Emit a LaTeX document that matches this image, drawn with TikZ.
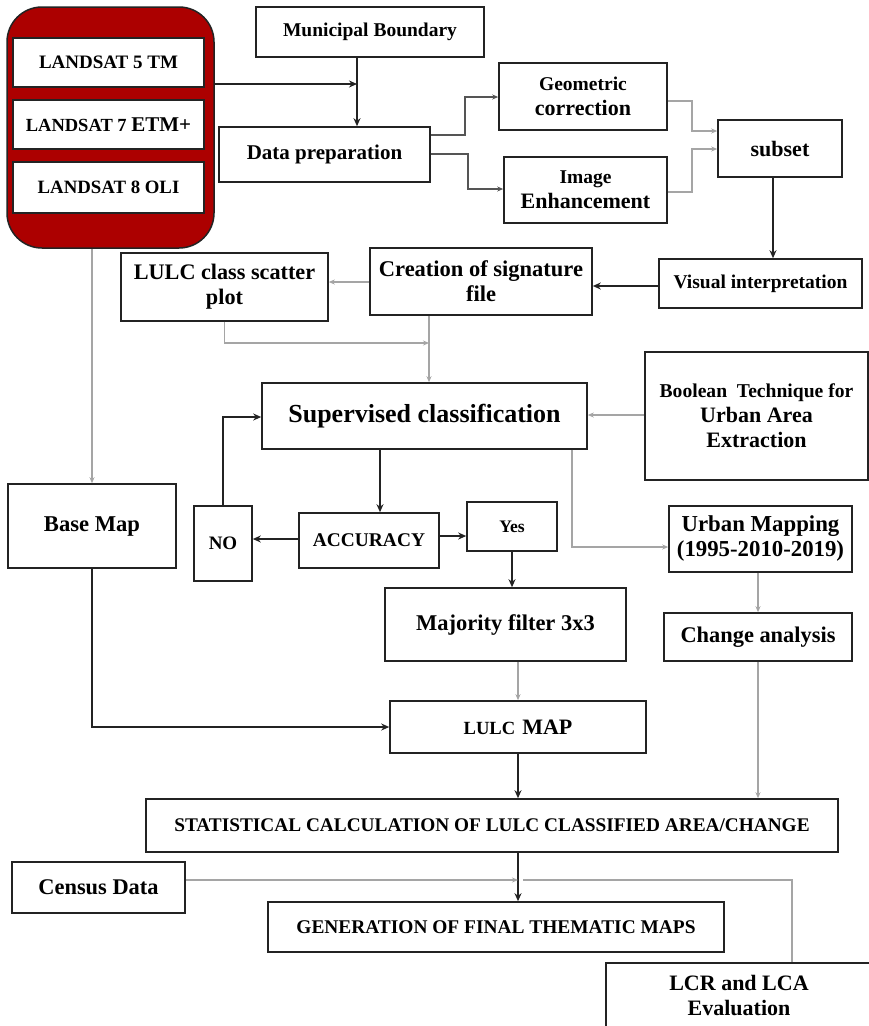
\documentclass[tikz,border=0pt]{standalone}
\usepackage{fontspec}
\setmainfont{Liberation Serif}
\usetikzlibrary{arrows.meta}
\definecolor{redfill}{RGB}{172,0,0}
\definecolor{linec}{RGB}{35,35,35}
\definecolor{grayc}{RGB}{165,165,165}
\definecolor{midc}{RGB}{85,85,85}
\newcommand\fsz[2]{\fontsize{#1}{#2}\selectfont}
\begin{document}
\begin{tikzpicture}[x=1pt,y=1pt,
 box/.style={draw=linec, line width=1.6pt, fill=white, inner sep=0pt, align=center, font={\bfseries\fsz{22}{25}}},
 blk/.style={draw=linec, line width=1.8pt, -{Stealth[length=8pt,width=7pt]}},
 blkline/.style={draw=linec, line width=1.8pt},
 gry/.style={draw=grayc, line width=1.2pt, -{Stealth[length=6pt,width=5pt]}},
 gryline/.style={draw=grayc, line width=1.2pt},
 mid/.style={draw=midc, line width=1.3pt, -{Stealth[length=6pt,width=5pt]}},
]
\useasboundingbox (0,0) rectangle (869,-1026);
\clip (0,0) rectangle (869,-1026);
\fill[white] (0,0) rectangle (869,-1026);

% red container
\node[draw=linec, line width=1.5pt, fill=redfill, rounded corners=35pt, minimum width=207pt, minimum height=241pt, inner sep=0pt] (red) at (110.5,-127.5) {};
\node[box, minimum width=191pt, minimum height=49pt] (L5) at (108.5,-62.5) {\fsz{19}{22}LANDSAT 5 TM};
\node[box, minimum width=191pt, minimum height=49pt] (L7) at (108.5,-124.5) {{\fsz{18.5}{22}LANDSAT 7 }{\fsz{21}{22}ETM+}};
\node[box, minimum width=191pt, minimum height=51pt] (L8) at (108.5,-187.5) {\fsz{18.8}{22}LANDSAT 8 OLI};

\node[box, minimum width=228pt, minimum height=50pt] (mun) at (370,-32) {\fsz{19.5}{22}Municipal Boundary};
\node[box, minimum width=211pt, minimum height=55pt] (dprep) at (324.5,-154.5) {\fsz{21}{24}Data preparation};
\node[box, minimum width=168pt, minimum height=67pt] (geo) at (583,-96.5) {{\fsz{19.5}{23}Geometric}\\correction};
\node[box, minimum width=163pt, minimum height=66pt] (img) at (585.5,-190) {{\fsz{19.5}{23}Image}\\Enhancement};
\node[box, minimum width=124pt, minimum height=57pt] (subset) at (780,-148.5) {subset};
\node[box, minimum width=203pt, minimum height=49pt] (visual) at (760.5,-283.5) {\fsz{19.5}{22}Visual interpretation};
\node[box, minimum width=222pt, minimum height=67pt, font={\bfseries\fsz{22.5}{25}}] (creation) at (481,-281.5) {Creation of signature\\file};
\node[box, minimum width=207pt, minimum height=68pt, font={\bfseries\fsz{22.2}{25}}] (scatter) at (224.5,-287) {LULC class scatter\\plot};
\node[box, minimum width=325pt, minimum height=66pt, font={\bfseries\fsz{26}{28}}] (sup) at (424.5,-416) {Supervised classification};
\node[box, minimum width=223pt, minimum height=128pt] (bool) at (756.5,-416) {{\fsz{19.6}{25}Boolean\ \ Technique for}\\Urban Area\\Extraction};
\node[box, minimum width=183pt, minimum height=66pt, font={\bfseries\fsz{22.8}{25}}] (urban) at (760.5,-539) {Urban Mapping\\(1995-2010-2019)};
\node[box, minimum width=140pt, minimum height=55pt] (acc) at (369,-540.5) {\fsz{19.4}{22}ACCURACY};
\node[box, minimum width=58pt, minimum height=75pt] (no) at (223,-543.5) {\fsz{19}{22}NO};
\node[box, minimum width=90pt, minimum height=49pt] (yes) at (512,-526.5) {\fsz{17.6}{20}Yes};
\node[box, minimum width=241pt, minimum height=73pt] (maj) at (505.5,-624.5) {\fsz{22.5}{25}Majority filter 3x3};
\node[box, minimum width=188pt, minimum height=48pt] (change) at (758,-637) {\fsz{22.4}{25}Change analysis};
\node[box, minimum width=256pt, minimum height=52pt] (lulcmap) at (518,-727) {{\fsz{18.6}{22}LULC}\hspace{7pt}{\fsz{22}{25}MAP}};
\node[box, minimum width=168pt, minimum height=84pt] (base) at (92,-526) {\fsz{22.6}{25}Base Map};
\node[box, minimum width=692pt, minimum height=53pt] (stat) at (492,-825.5) {\fsz{19.3}{22}STATISTICAL CALCULATION OF LULC CLASSIFIED AREA/CHANGE};
\node[box, minimum width=173pt, minimum height=51pt] (census) at (98.5,-887.5) {\fsz{22.4}{25}Census Data};
\node[box, minimum width=456pt, minimum height=50pt] (gen) at (496,-927) {\fsz{19.4}{22}GENERATION OF FINAL THEMATIC MAPS};
\node[box, minimum width=266pt, minimum height=64pt] (lcr) at (739,-995) {LCR and LCA\\Evaluation};

% connectors
\coordinate (j1) at (357,-84);
\draw[blk] (red.east |- j1) -- (j1);
\draw[blk] (mun.south -| j1) -- (dprep.north -| j1);

\draw[mid] (dprep.east |- 0,-135) -- (465,-135) |- (geo.west |- 0,-97);
\draw[mid] (dprep.east |- 0,-154) -- (468,-154) |- (img.west |- 0,-189);
\draw[gry] (geo.east |- 0,-101) -- (692,-101) |- (subset.west |- 0,-131);
\draw[gry] (img.east |- 0,-192) -- (692,-192) |- (subset.west |- 0,-149);

\draw[blk] (subset.south -| 773,0) -- (visual.north -| 773,0);
\draw[blk] (visual.west |- 0,-286) -- (creation.east |- 0,-286);
\draw[gry] (creation.west |- 0,-282) -- (scatter.east |- 0,-282);

\coordinate (m1) at (429,-343);
\draw[gry] (scatter.south) |- (m1);
\draw[gry] (creation.south -| m1) -- (sup.north -| m1);

\draw[gry] (bool.west |- 0,-415) -- (sup.east |- 0,-415);
\draw[gry] (sup.south -| 572,0) |- (urban.west |- 0,-547);

\draw[blk] (sup.south -| 380,0) -- (acc.north -| 380,0);
\draw[blk] (acc.west |- 0,-539) -- (no.east |- 0,-539);
\draw[blk] (acc.east |- 0,-536) -- (yes.west |- 0,-536);
\draw[blk] (no.north) |- (sup.west |- 0,-417);
\draw[blk] (yes.south) -- (maj.north -| yes.south);

\draw[gry] (maj.south -| lulcmap.north) -- (lulcmap.north);
\draw[gry] (urban.south -| change.north) -- (change.north);
\draw[gry] (change.south) -- (stat.north -| change.south);

\draw[gry] (red.south -| base.north) -- (base.north);
\draw[blk] (base.south) |- (lulcmap.west);

\draw[blk] (lulcmap.south) -- (stat.north -| lulcmap.south);
\draw[blk] (stat.south -| lulcmap.south) -- (gen.north -| lulcmap.south);

\coordinate (j2) at (518,-880);
\coordinate (j3) at (523,-880);
\draw[gry] (census.east |- j2) -- (j2);
\draw[gryline] (lcr.north -| 792,0) |- (j3);
\end{tikzpicture}
\end{document}
